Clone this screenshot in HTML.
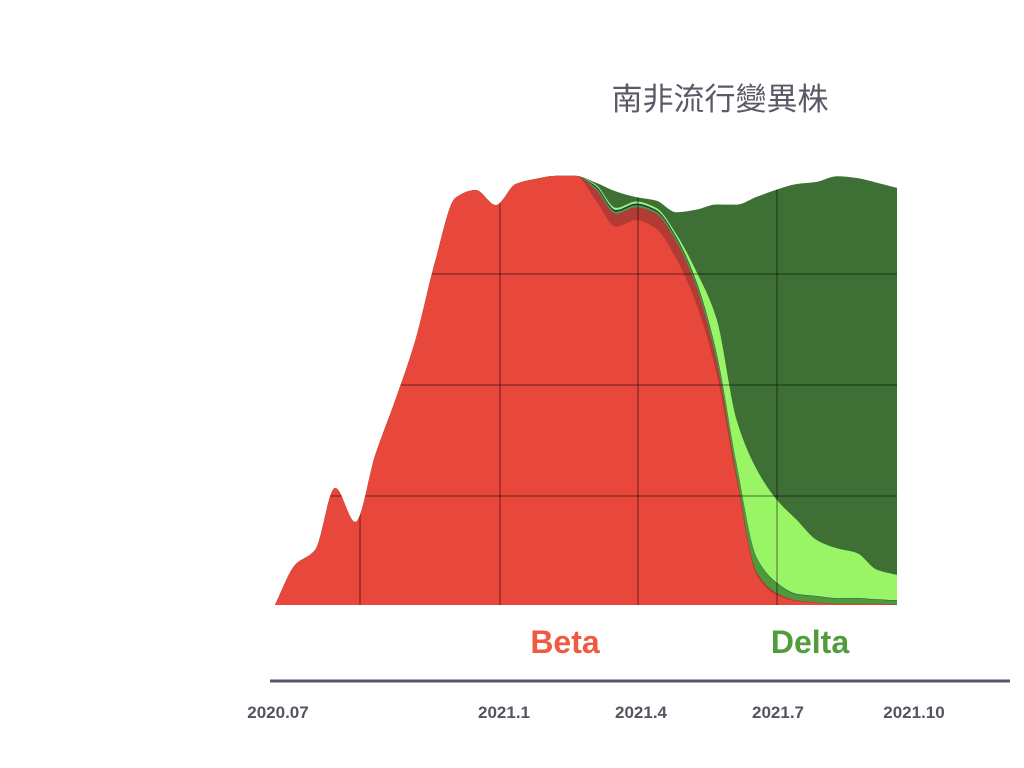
<!DOCTYPE html>
<html><head><meta charset="utf-8"><style>
html,body{margin:0;padding:0;background:#fff;width:1024px;height:768px;overflow:hidden}
svg{display:block}
</style></head><body>
<svg width="1024" height="768" xmlns="http://www.w3.org/2000/svg">
<text x="720" y="110" text-anchor="middle" font-family="'Liberation Sans','Noto Sans CJK TC',sans-serif" font-size="31" fill="#5a5a66">南非流行變異株</text>
<g id="areas"></g>
<g id="grid"></g>
<text x="565" y="653" text-anchor="middle" font-family="'Liberation Sans',sans-serif" font-weight="bold" font-size="32" fill="#f05a42">Beta</text>
<text x="810" y="653" text-anchor="middle" font-family="'Liberation Sans',sans-serif" font-weight="bold" font-size="32" fill="#529c3c">Delta</text>
<line x1="270" y1="681" x2="1010" y2="681" stroke="#555566" stroke-width="3"/>
<g id="ticks"></g>
</svg>
<script>
const weeks = Array.from({length:32},(_,i)=>i);
const beta = [0,9.3,12.8,27.2,19.3,34.9,47.7,61.6,80.2,94.7,96.5,93.0,97.9,99.1,99.8,99.8,94.0,88.0,89.5,87.5,80.5,70.0,54.0,29.1,7.0,2.3,0.9,0.5,0.2,0.2,0.2,0];
const otherRed = [0,0,0,0,0,0,0,0,0,0,0,0,0,0,0,0,2.5,3.0,3.0,3.5,4.0,4.0,3.0,1.4,0.7,0.5,0.2,0.1,0.1,0.1,0.1,0.1];
const midGreen = [0,0,0,0,0,0,0,0,0,0,0,0,0,0,0,0,0.5,0.5,0.5,0.5,0.7,0.9,1.4,2.3,3.3,2.3,1.4,1.4,1.2,1.2,0.9,0.9];
const navy = [0,0,0,0,0,0,0,0,0,0,0,0,0,0,0,0,0.35,0.35,0.35,0.35,0.35,0.35,0.35,0.1,0.1,0.1,0.1,0.1,0.1,0.1,0.1,0.1];
const lightGreen = [0,0,0,0,0,0,0,0,0,0,0,0,0,0,0,0,0.35,0.5,0.5,0.5,0.7,2.3,7.9,10.2,20.5,19.3,17.2,13,11.6,10.5,6.9,5.9];
const delta = [0,0,0,0,0,0,0,0,0,0,0,0,0,0,0,0,0.5,3.8,1,1.7,5.1,14.4,26.5,50,63.3,72.1,78.1,83.3,86.5,87.2,90,90];
const tickLabels = ["2020.07","2021.1","2021.4","2021.7","2021.10"];
const tickPos = [278,504,641,778,914];

const NS="http://www.w3.org/2000/svg";
const X0=275,X1=897,Y0=605,H=430;
const xs=i=>X0+(X1-X0)*i/(weeks.length-1);
const ys=v=>Y0-v/100*H;
function mono(pts){
  const n=pts.length,dx=[],m=[],t=[];
  for(let i=0;i<n-1;i++){dx[i]=pts[i+1][0]-pts[i][0];m[i]=(pts[i+1][1]-pts[i][1])/dx[i];}
  t[0]=m[0];t[n-1]=m[n-2];
  for(let i=1;i<n-1;i++){t[i]=m[i-1]*m[i]<=0?0:(3*(dx[i-1]+dx[i]))/((2*dx[i]+dx[i-1])/m[i-1]+(dx[i]+2*dx[i-1])/m[i]);}
  let d="";
  for(let i=0;i<n-1;i++){const h=dx[i]/3;
    d+=` C${pts[i][0]+h},${pts[i][1]+t[i]*h} ${pts[i+1][0]-h},${pts[i+1][1]-t[i+1]*h} ${pts[i+1][0]},${pts[i+1][1]}`;}
  return d;
}
const layers=[[beta,"#e8473c","beta"],[otherRed,"#b23b35","other-red"],[midGreen,"#4e9a3a","mid-green"],[navy,"#1f2b70","navy"],[lightGreen,"#9af566","light-green"],[delta,"#3e7035","delta"]];
const areas=document.getElementById('areas');
let cum=weeks.map(()=>0);
let topPath="";
const cums=[];
layers.forEach(([arr])=>{cum=cum.map((c,i)=>c+arr[i]);cums.push(cum.slice());});
for(let k=layers.length-1;k>=0;k--){
  const pts=weeks.map((w,i)=>[xs(i),ys(cums[k][i])]);
  const d=`M${xs(0)},${Y0} L${pts[0][0]},${pts[0][1]}`+mono(pts)+` L${xs(weeks.length-1)},${Y0} Z`;
  if(k===layers.length-1) topPath=d;
  const p=document.createElementNS(NS,'path');
  p.setAttribute('d',d);p.setAttribute('fill',layers[k][1]);
  
  
  areas.appendChild(p);
}
const grid=document.getElementById('grid');
const defs=document.createElementNS(NS,'clipPath');defs.setAttribute('id','clipA');
const cp=document.createElementNS(NS,'path');cp.setAttribute('d',topPath);defs.appendChild(cp);
grid.parentNode.insertBefore(defs,grid);
grid.setAttribute('clip-path','url(#clipA)');
[274,385,496].forEach(y=>{const l=document.createElementNS(NS,'line');
  l.setAttribute('x1',275);l.setAttribute('x2',897);l.setAttribute('y1',y);l.setAttribute('y2',y);
  l.setAttribute('stroke','rgba(0,0,0,0.27)');l.setAttribute('stroke-width','2');
  
  
  grid.appendChild(l);});
[360,500,638,777].forEach(x=>{const l=document.createElementNS(NS,'line');
  l.setAttribute('x1',x);l.setAttribute('x2',x);l.setAttribute('y1',150);l.setAttribute('y2',605);
  l.setAttribute('stroke','rgba(0,0,0,0.27)');l.setAttribute('stroke-width','2');
  
  
  grid.appendChild(l);});
const ticks=document.getElementById('ticks');
tickLabels.forEach((t,i)=>{const e=document.createElementNS(NS,'text');
  e.setAttribute('x',tickPos[i]);e.setAttribute('y',718);e.setAttribute('text-anchor','middle');
  e.setAttribute('font-family',"'Liberation Sans',sans-serif");e.setAttribute('font-weight','bold');
  e.setAttribute('font-size','17');e.setAttribute('fill','#555560');e.textContent=t;
  
  
  ticks.appendChild(e);});
</script>
</body></html>
